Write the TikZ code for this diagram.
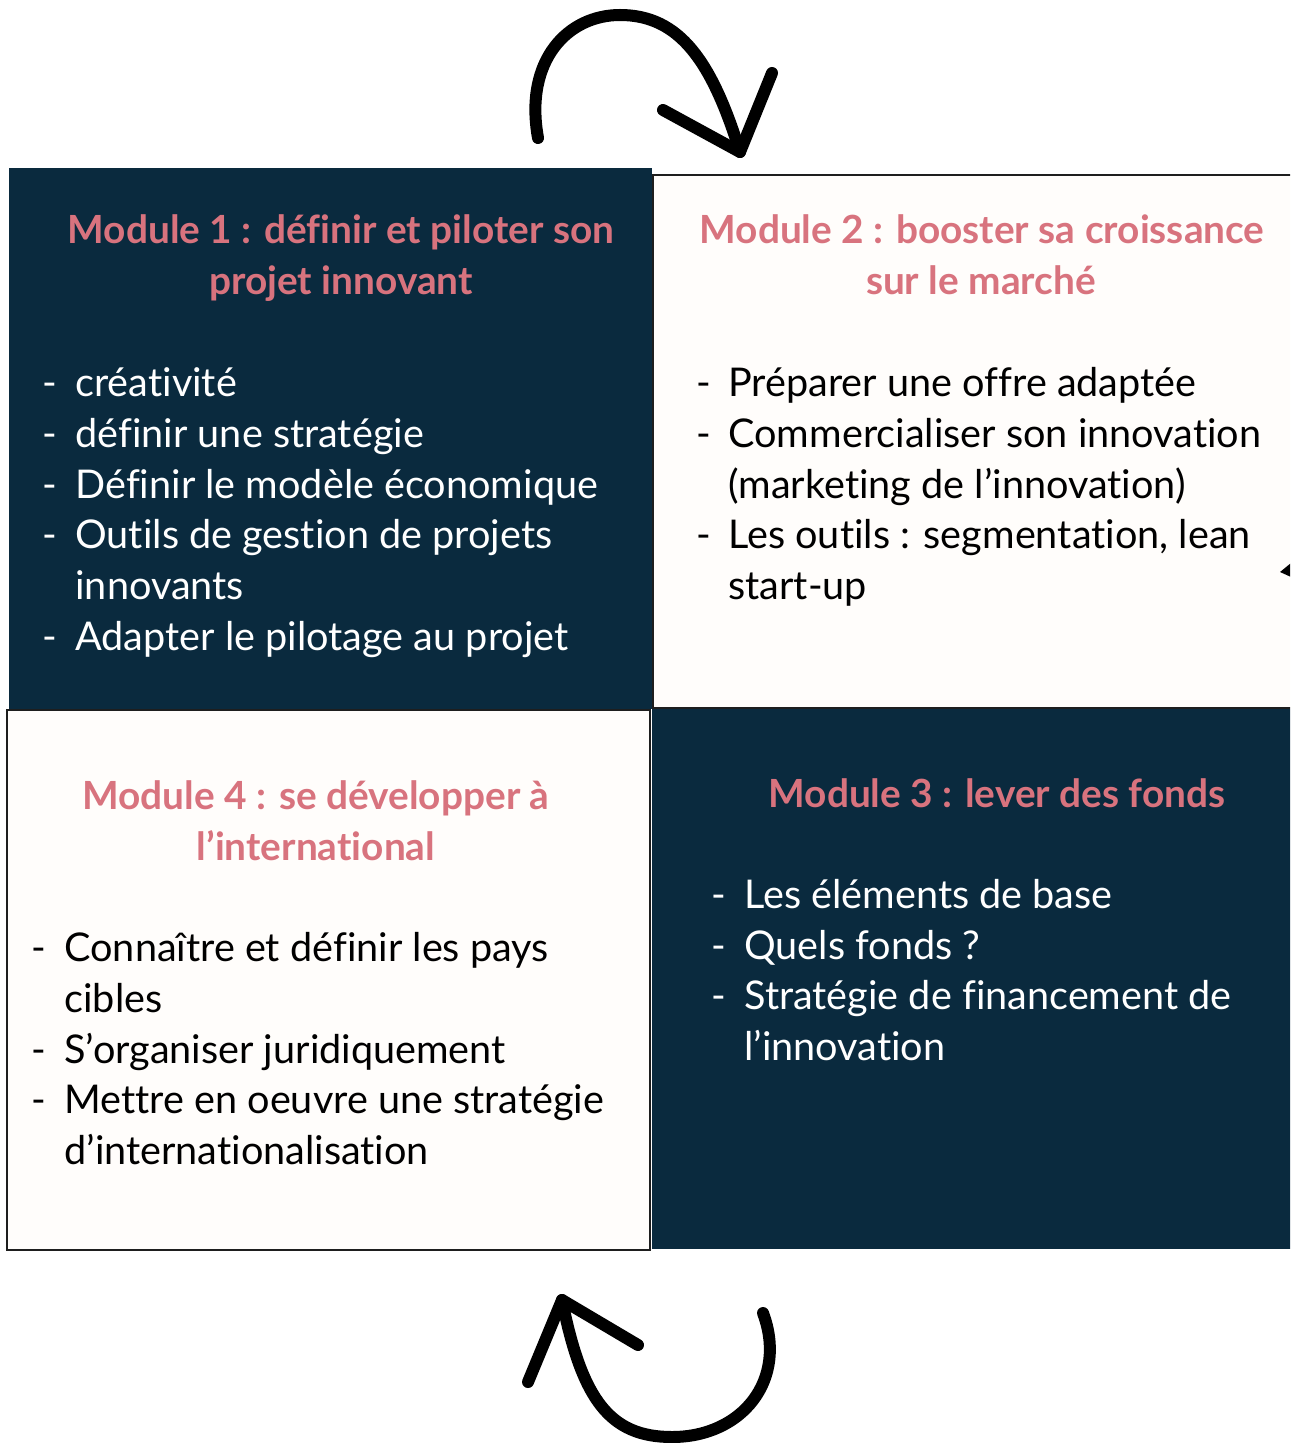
\documentclass[tikz,border=0pt]{standalone}
\usepackage{fontspec}
\setmainfont{Lato}[Ligatures=CommonOff]
\definecolor{navy}{HTML}{0A2A3E}
\definecolor{rose}{HTML}{D8737E}
\definecolor{paper}{HTML}{FFFDFB}
\definecolor{edge}{HTML}{1E1E1E}
\newcommand\ttlfnt{\fontsize{19.4}{23}\selectfont\bfseries}
\newcommand\bodyfnt{\fontsize{19.8}{23}\selectfont}
\tikzset{
  darkbox/.style={fill=navy, draw=none},
  lightbox/.style={fill=paper, draw=edge, line width=1pt},
  ttl/.style={font=\ttlfnt, text=rose, inner sep=0pt, anchor=base},
  bd/.style={font=\bodyfnt, inner sep=0pt, anchor=base west},
  bdw/.style={bd, text=white},
  bdk/.style={bd, text=black},
  arr/.style={line width=6pt, line cap=round, line join=round, draw=black}
}
\begin{document}
\begin{tikzpicture}[x=0.5pt,y=-0.5pt]
\useasboundingbox (0,0) rectangle (1290,1443);
\fill[white] (0,0) rectangle (1290,1443);
\begin{scope}
\clip (0,0) rectangle (1290,1443);
% boxes
\path[darkbox] (9,168) rectangle (652,709);
\path[lightbox] (653,175) rectangle (1300,708);
\path[lightbox] (7,710) rectangle (650,1250);
\path[darkbox] (652,709) rectangle (1300,1249);
% small fragment at right edge
\fill[black] (1280,572) -- (1291,563) -- (1291,577) -- cycle;
% top arrow
\coordinate (ta0) at (538,138);
\coordinate (ta1) at (620,15);
\coordinate (tatip) at (740,152);
\coordinate (tah1) at (663,110);
\coordinate (tah2) at (772,73);
\draw[arr] (ta0) .. controls (524,60) and (568,15) .. (ta1) .. controls (680,15) and (712,62) .. (tatip);
\draw[arr] (tah1) -- (tatip) -- (tah2);
% bottom arrow
\coordinate (ba0) at (763,1313);
\coordinate (ba1) at (672,1437);
\coordinate (batip) at (562,1300);
\coordinate (bah1) at (528,1382);
\coordinate (bah2) at (638,1345);
\draw[arr] (ba0) .. controls (788,1380) and (742,1437) .. (ba1) .. controls (610,1437) and (582,1400) .. (batip);
\draw[arr] (bah1) -- (batip) -- (bah2);
\end{scope}
% Module 1
\node[ttl] (t1a) at (341,244) {Module 1 : définir et piloter son};
\node[ttl] (t1b) at (341,295) {projet innovant};
\foreach \y/\n in {397/a,447/b,498/c,548/d,650/f}{\node[bdw] (d1\n) at (42,\y) {-};}
\node[bdw] (m1a) at (75,397) {créativité};
\node[bdw] (m1b) at (75,447) {définir une stratégie};
\node[bdw] (m1c) at (75,498) {Définir le modèle économique};
\node[bdw] (m1d) at (75,548) {Outils de gestion de projets};
\node[bdw] (m1e) at (75,599) {innovants};
\node[bdw] (m1f) at (75,650) {Adapter le pilotage au projet};
% Module 2
\node[ttl] (t2a) at (982,244) {Module 2 : booster sa croissance};
\node[ttl] (t2b) at (981,295) {sur le marché};
\foreach \y/\n in {397/a,447/b,548/d}{\node[bdk] (d2\n) at (696,\y) {-};}
\node[bdk] (m2a) at (728,397) {Préparer une offre adaptée};
\node[bdk] (m2b) at (728,447) {Commercialiser son innovation};
\node[bdk] (m2c) at (728,498) {(marketing de l’innovation)};
\node[bdk] (m2d) at (728,548) {Les outils : segmentation, lean};
\node[bdk] (m2e) at (728,599) {start-up};
% Module 4
\node[ttl] (t4a) at (316,809) {Module 4 : se développer à};
\node[ttl] (t4b) at (316,860) {l’international};
\foreach \y/\n in {961/a,1063/c,1113/d}{\node[bdk] (d4\n) at (31,\y) {-};}
\node[bdk] (m4a) at (64,961) {Connaître et définir les pays};
\node[bdk] (m4b) at (64,1012) {cibles};
\node[bdk] (m4c) at (64,1063) {S’organiser juridiquement};
\node[bdk] (m4d) at (64,1113) {Mettre en oeuvre une stratégie};
\node[bdk] (m4e) at (64,1164) {d’internationalisation};
% Module 3
\node[ttl] (t3a) at (997,807) {Module 3 : lever des fonds};
\foreach \y/\n in {908/a,959/b,1009/c}{\node[bdw] (d3\n) at (711,\y) {-};}
\node[bdw] (m3a) at (744,908) {Les éléments de base};
\node[bdw] (m3b) at (744,959) {Quels fonds ?};
\node[bdw] (m3c) at (744,1009) {Stratégie de financement de};
\node[bdw] (m3d) at (744,1060) {l’innovation};
\end{tikzpicture}
\end{document}
